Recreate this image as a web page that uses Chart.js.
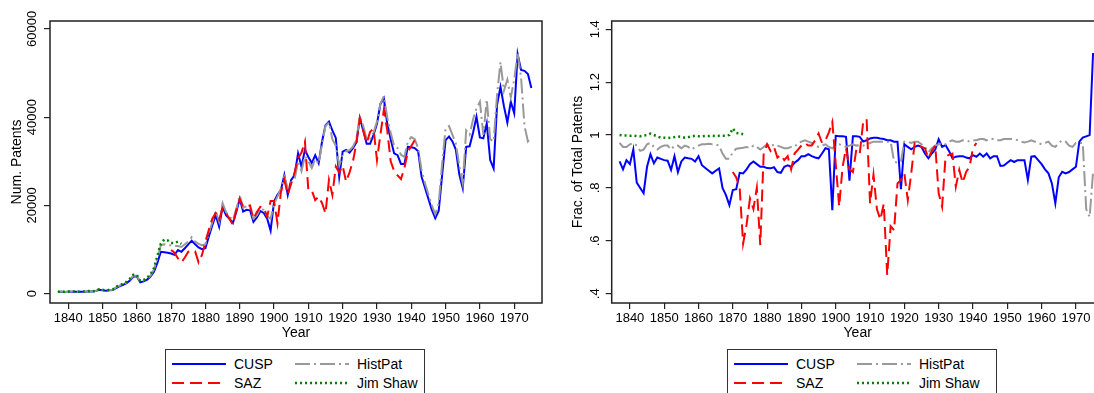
<!DOCTYPE html>
<html>
<head>
<meta charset="utf-8">
<script src="https://cdn.jsdelivr.net/npm/chart.js@4/dist/chart.umd.min.js"></script>
<style>
  html, body { margin: 0; padding: 0; background: #fff; }
  body { width: 1094px; height: 393px; overflow: hidden; position: relative;
         font-family: Arial, "Liberation Sans", sans-serif; }
  .panel { position: absolute; top: 0; height: 343px; }
  .legend { position: absolute; top: 349px; height: 60px; border: 1px solid #333;
            box-sizing: border-box; background: #fff; }
  .key { position: absolute; font-size: 14px; color: #000; white-space: nowrap; line-height: 16px; }
  .key svg { position: absolute; }
</style>
</head>
<body>
<div class="panel" style="left:0; width:548px;"><canvas id="numChart"></canvas></div>
<div class="panel" style="left:560px; width:550px;"><canvas id="fracChart"></canvas></div>
<div class="legend" id="numLegend" style="left:165px; width:260px;"></div>
<div class="legend" id="fracLegend" style="left:727px; width:270px;"></div>

<script>
// Years on the x axis (CUSP and HistPat cover all of them)
const firstYear = 1837;
const xTicks = [1840, 1850, 1860, 1870, 1880, 1890, 1900, 1910, 1920, 1930, 1940, 1950, 1960, 1970];
const numTicks = [0, 20000, 40000, 60000];
const fracTicks = [0.4, 0.6, 0.8, 1, 1.2, 1.4];
const fracTickLabels = ['.4', '.6', '.8', '1', '1.2', '1.4'];

// ---- Num. Patents (left panel), 1837-1975 ----
const cuspNum = [
  400, 450, 400,
  450, 450, 450, 430, 450, 460, 550, 520, 600, 900,
  800, 700, 800, 850, 1300, 1700, 2000, 2400, 3000, 3900,
  3900, 2600, 2800, 3200, 3900, 5000, 7000, 9500, 9400, 9300,
  9100, 8800, 9900, 9500, 10300, 11200, 12000, 11200, 10500, 10100,
  10300, 13000, 15500, 17800, 15200, 19700, 17800, 17000, 16000, 18500,
  21500, 18600, 19000, 18900, 16300, 17300, 18700, 18300, 17000, 14300,
  20900, 22400, 23500, 26900, 22400, 25800, 26900, 31800, 28800, 32600,
  31000, 29600, 31400, 29600, 34500, 38200, 39000, 37000, 35300, 26500,
  32200, 32600, 32000, 33000, 34300, 39800, 37000, 34000, 34000, 36000,
  38500, 43000, 44300, 38500, 35000, 31800, 31400, 29400, 29400, 33300,
  33200, 33000, 32300, 26500, 24000, 21500, 19000, 17100, 18800, 27000,
  34800, 35600, 34500, 32600, 27000, 23900, 33300, 33400, 36500, 40100,
  35400, 35200, 38600, 30300, 28400, 42800, 46900, 42500, 38800, 43500,
  40900, 54300, 50700, 50500, 49800, 46600
];
const histPatNum = [
  420, 480, 420,
  470, 480, 480, 460, 470, 490, 580, 550, 640, 950,
  850, 750, 850, 900, 1500, 1850, 2150, 2550, 3200, 4100,
  4100, 2750, 3000, 3400, 4100, 5500, 8000, 11000, 11200, 11000,
  11000, 10800, 10800, 10600, 11200, 11800, 12800, 11800, 11300, 11000,
  11200, 13800, 16200, 18800, 16300, 20500, 18500, 17500, 16700, 19200,
  22300, 19500, 19800, 19500, 17000, 17800, 19200, 19000, 17600, 17000,
  20300, 22000, 23800, 26500, 24000, 25300, 26000, 30000, 27800, 31200,
  30000, 28500, 30500, 29500, 34000, 38000, 38800, 35000, 33500, 29000,
  31500, 32300, 32500, 33300, 35000, 40300, 38000, 35000, 35000, 36500,
  39000, 43000, 44800, 40000, 36500, 33500, 33000, 31500, 31000, 34500,
  35500, 35000, 33000, 28000, 25000, 22500, 20000, 18000, 20500, 29500,
  37500, 38000, 36000, 34000, 29000, 25000, 37000, 36000, 39500, 42000,
  43500, 36000, 44000, 35000, 34500, 45000, 52500, 46000, 48500, 44500,
  48500, 54500, 49000, 38000, 34500, 35500
];
const sazStart = 1870;
const sazNum = [
  9900, 9300, 8000, 7100, 8200, 9500, 9900, 9600, 7100, 8800,
  11800, 14500, 17000, 18300, 16800, 19300, 18300, 17000, 15600, 19000,
  21500, 19700, 19900, 20000, 17000, 18500, 19700, 19500, 17500, 21000,
  21000, 16000, 23000, 25800, 22500, 25000, 27500, 30700, 32000, 34500,
  23500, 23400, 21200, 22000, 20500, 18200, 25800, 22400, 28800, 27500,
  29000, 25400, 27500, 30000, 34100, 39800, 37000, 34100, 36700, 37400,
  30300, 36000, 41600, 37000, 30000, 27800, 26800, 26000, 28500, 32200,
  33500, 34800
];
const jimShawStart = 1837;
const jimShawNum = [
  430, 500, 430,
  480, 490, 480, 460, 480, 500, 600, 560, 650, 1000,
  880, 760, 880, 950, 1600, 1950, 2250, 2700, 3400, 4300,
  4300, 2900, 3100, 3600, 4400, 5800, 8600, 11300, 12300, 12100,
  11500, 11500, 11800, 11300
];

// ---- Frac. of Total Patents (right panel) ----
const cuspFrac = [
  0.90, 0.87, 0.905,
  0.89, 0.945, 0.82, 0.80, 0.78, 0.88, 0.927, 0.893, 0.915, 0.91,
  0.905, 0.903, 0.868, 0.92, 0.86, 0.90, 0.915, 0.912, 0.91, 0.90,
  0.92, 0.886, 0.875, 0.865, 0.855, 0.865, 0.874, 0.80, 0.773, 0.735,
  0.792, 0.795, 0.857, 0.855, 0.87, 0.89, 0.90, 0.89, 0.88, 0.88,
  0.875, 0.874, 0.878, 0.86, 0.857, 0.88, 0.885, 0.88, 0.895, 0.905,
  0.92, 0.92, 0.928, 0.92, 0.915, 0.912, 0.93, 0.95, 0.946, 0.716,
  0.997, 0.995, 0.995, 0.993, 0.827, 0.995, 0.995, 0.993, 0.975, 0.98,
  0.987, 0.99, 0.99, 0.987, 0.985, 0.98, 0.98, 0.975, 0.975, 0.795,
  0.965, 0.955, 0.946, 0.955, 0.96, 0.955, 0.93, 0.912, 0.93, 0.945,
  0.984, 0.955, 0.962, 0.94, 0.912, 0.918, 0.92, 0.92, 0.915, 0.912,
  0.924, 0.918, 0.93, 0.918, 0.93, 0.912, 0.92, 0.92, 0.883, 0.885,
  0.895, 0.905, 0.898, 0.905, 0.905, 0.905, 0.83, 0.918, 0.92, 0.905,
  0.89, 0.87, 0.855, 0.817, 0.742, 0.84, 0.861, 0.855, 0.86, 0.87,
  0.88, 0.975, 0.99, 0.995, 1.0, 1.31
];
const histPatFrac = [
  0.97, 0.955, 0.955,
  0.965, 0.97, 0.96, 0.94, 0.945, 0.965, 0.97, 0.955, 0.945, 0.955,
  0.96, 0.96, 0.945, 0.96, 0.96, 0.95, 0.96, 0.955, 0.945, 0.955,
  0.96, 0.965, 0.965, 0.967, 0.965, 0.965, 0.96, 0.93, 0.91, 0.91,
  0.935, 0.948, 0.95, 0.952, 0.955, 0.95, 0.96, 0.955, 0.945, 0.955,
  0.965, 0.955, 0.965, 0.96, 0.955, 0.95, 0.95, 0.955, 0.955, 0.97,
  0.975, 0.98, 0.975, 0.97, 0.96, 0.955, 0.96, 0.965, 0.955, 0.95,
  0.96, 0.965, 0.96, 0.955, 0.96, 0.965, 0.96, 0.962, 0.96, 0.965,
  0.97, 0.975, 0.975, 0.975, 0.975, 0.975, 0.975, 0.9, 0.895, 0.9,
  0.975, 0.975, 0.97, 0.975, 0.975, 0.965, 0.955, 0.935, 0.95, 0.96,
  0.965, 0.97, 0.965, 0.975, 0.98, 0.975, 0.975, 0.98, 0.98, 0.975,
  0.98, 0.98, 0.985, 0.985, 0.98, 0.985, 0.985, 0.98, 0.98, 0.985,
  0.985, 0.985, 0.985, 0.98, 0.975, 0.972, 0.975, 0.98, 0.975, 0.97,
  0.965, 0.97, 0.975, 0.96, 0.955, 0.97, 0.98, 0.975, 0.96, 0.955,
  0.97, 0.97, 0.97, 0.72, 0.69, 0.86
];
const sazFrac = [
  0.86, 0.84, 0.80, 0.59, 0.66, 0.76, 0.72, 0.80, 0.584, 0.93,
  0.965, 0.94, 0.955, 0.915, 0.925, 0.905, 0.92, 0.87, 0.93, 0.945,
  0.96, 0.97, 0.96, 0.96, 0.98, 1.006, 0.97, 0.98, 1.01, 1.05,
  0.89, 0.73, 0.88, 0.95, 0.87, 0.86, 0.945, 0.93, 1.05, 1.06,
  0.742, 0.85, 0.72, 0.68, 0.74, 0.471, 0.655, 0.64, 0.817, 0.83,
  0.855, 0.754, 0.855, 0.969, 0.96, 0.955, 0.95, 0.912, 0.94, 0.96,
  0.78, 0.729, 0.918, 0.925, 0.93, 0.805, 0.868, 0.82, 0.86, 0.88,
  0.95, 0.97
];
const jimShawFrac = [
  1.0, 0.998, 0.998,
  0.997, 0.998, 0.996, 0.995, 0.998, 1.0, 1.005, 1.0, 0.995, 0.99,
  0.99, 0.988, 0.99, 0.992, 0.995, 0.993, 0.99, 0.992, 0.995, 0.997,
  0.995, 0.995, 0.996, 0.996, 0.997, 0.996, 0.997, 0.997, 0.997, 1.0,
  1.025, 1.008, 1.006, 1.003
];

// line styles, Stata-like
const styles = {
  'CUSP':     { color: '#0000ff', dash: [], width: 2, order: 4 },
  'HistPat':  { color: '#999999', dash: [15, 4, 2, 4], width: 2, order: 3 },
  'SAZ':      { color: '#ff0000', dash: [12, 6], width: 2, order: 2 },
  'Jim Shaw': { color: '#008000', dash: [2, 3], width: 2.5, order: 1 }
};

function toPoints(start, values) {
  return values.map((v, i) => ({ x: start + i, y: v }));
}

function makeDataset(label, start, values) {
  const s = styles[label];
  return {
    label: label,
    data: toPoints(start, values),
    borderColor: s.color,
    borderDash: s.dash,
    borderWidth: s.width,
    order: s.order,
    pointRadius: 0,
    tension: 0,
    fill: false
  };
}

const framePlugin = {
  id: 'frame',
  afterDatasetsDraw(chart) {
    const { ctx, chartArea: a } = chart;
    ctx.save();
    ctx.strokeStyle = '#222';
    ctx.lineWidth = 1.5;
    ctx.strokeRect(a.left, a.top, a.right - a.left, a.bottom - a.top);
    ctx.restore();
  }
};

const tickFont = { family: 'Arial, "Liberation Sans", sans-serif', size: 13 };
const titleFont = { family: 'Arial, "Liberation Sans", sans-serif', size: 14 };

function makeChart(id, datasets, opts) {
  return new Chart(document.getElementById(id), {
    type: 'line',
    data: { datasets: datasets },
    options: {
      responsive: true,
      maintainAspectRatio: false,
      animation: false,
      layout: { padding: { left: 0, right: opts.rightPad, top: 21, bottom: 0 } },
      plugins: { legend: { display: false }, tooltip: { enabled: false } },
      scales: {
        x: {
          type: 'linear',
          min: 1834.7,
          max: 1978.1,
          afterBuildTicks: s => { s.ticks = xTicks.map(v => ({ value: v })); },
          afterFit: s => { s.height = 40; },
          ticks: { autoSkip: false, maxRotation: 0, font: tickFont, color: '#000', padding: 2,
                   callback: v => String(v) },
          grid: { drawOnChartArea: false, drawTicks: true, tickLength: 6, color: '#222', lineWidth: 1.2 },
          border: { display: false },
          title: { display: true, text: 'Year', font: titleFont, color: '#000', padding: { top: 0, bottom: 1.6 } }
        },
        y: {
          type: 'linear',
          min: opts.yMin,
          max: opts.yMax,
          afterBuildTicks: s => { s.ticks = opts.yTicks.map(v => ({ value: v })); },
          afterFit: s => { s.width = opts.yWidth; },
          ticks: { autoSkip: false, minRotation: 90, maxRotation: 90, crossAlign: 'center',
                   padding: opts.yPad, font: tickFont, color: '#000',
                   callback: v => opts.yLabel(v) },
          grid: { drawOnChartArea: false, drawTicks: true, tickLength: 6, color: '#222', lineWidth: 1.2 },
          border: { display: false },
          title: { display: true, text: opts.yTitle, font: titleFont, color: '#000',
                   padding: { top: opts.titlePad, bottom: 0 } }
        }
      }
    },
    plugins: [framePlugin]
  });
}

const numChart = makeChart('numChart', [
  makeDataset('CUSP', firstYear, cuspNum),
  makeDataset('HistPat', firstYear, histPatNum),
  makeDataset('SAZ', sazStart, sazNum),
  makeDataset('Jim Shaw', jimShawStart, jimShawNum)
], {
  rightPad: 6, yMin: -2100, yMax: 61800, yTicks: numTicks, yWidth: 50, yPad: -6,
  yLabel: v => String(v), yTitle: 'Num. Patents', titlePad: 8.6
});

const fracChart = makeChart('fracChart', [
  makeDataset('CUSP', firstYear, cuspFrac),
  makeDataset('HistPat', firstYear, histPatFrac),
  makeDataset('SAZ', sazStart, sazFrac),
  makeDataset('Jim Shaw', jimShawStart, jimShawFrac)
], {
  rightPad: 6.3, yMin: 0.365, yMax: 1.431, yTicks: fracTicks, yWidth: 51.7, yPad: 1.6,
  yLabel: v => fracTickLabels[fracTicks.findIndex(t => Math.abs(t - v) < 1e-6)] || '',
  yTitle: 'Frac. of Total Patents', titlePad: 9.6
});

// Legend in two columns, rows: CUSP / HistPat, SAZ / Jim Shaw
function buildLegend(boxId, chart) {
  const box = document.getElementById(boxId);
  const layout = [
    { label: 'CUSP',     col: 0, row: 0 },
    { label: 'HistPat',  col: 1, row: 0 },
    { label: 'SAZ',      col: 0, row: 1 },
    { label: 'Jim Shaw', col: 1, row: 1 }
  ];
  layout.forEach(item => {
    const ds = chart.data.datasets.find(d => d.label === item.label);
    const left = item.col === 0 ? 6 : 129;
    const top = item.row === 0 ? 6 : 25;
    const key = document.createElement('div');
    key.className = 'key';
    key.style.left = left + 'px';
    key.style.top = top + 'px';
    key.style.width = '130px';
    key.style.height = '16px';
    const svg = document.createElementNS('http://www.w3.org/2000/svg', 'svg');
    svg.setAttribute('width', '54');
    svg.setAttribute('height', '16');
    svg.style.left = '0px';
    svg.style.top = '0px';
    const line = document.createElementNS('http://www.w3.org/2000/svg', 'line');
    line.setAttribute('x1', '0'); line.setAttribute('x2', '54');
    line.setAttribute('y1', '8'); line.setAttribute('y2', '8');
    line.setAttribute('stroke', ds.borderColor);
    line.setAttribute('stroke-width', ds.borderWidth);
    if (ds.borderDash.length) line.setAttribute('stroke-dasharray', ds.borderDash.join(' '));
    svg.appendChild(line);
    key.appendChild(svg);
    const txt = document.createElement('span');
    txt.textContent = ds.label;
    txt.style.position = 'absolute';
    txt.style.left = '62px';
    txt.style.top = '0px';
    key.appendChild(txt);
    box.appendChild(key);
  });
}
buildLegend('numLegend', numChart);
buildLegend('fracLegend', fracChart);
</script>
</body>
</html>
